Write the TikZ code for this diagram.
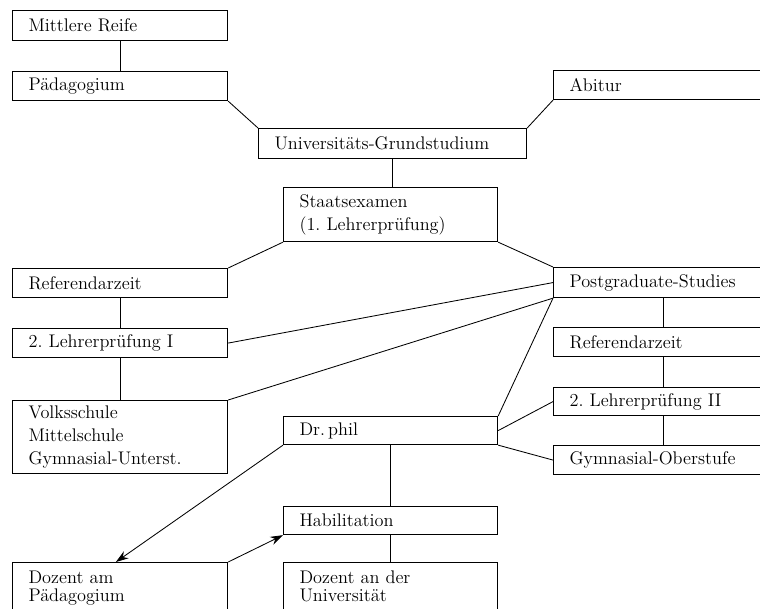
\documentclass[tikz,border=0pt]{standalone}
\usepackage{tikz}
\usetikzlibrary{arrows.meta,calc}
\frenchspacing

\tikzset{
  box/.style={draw, thick, rectangle, anchor=north west, align=left,
    inner xsep=0.4cm, inner ysep=0pt, font=\fontsize{13}{15.5}\selectfont},
  lbox/.style={box, text width=4.575cm},
  cbox/.style={box, text width=4.55cm},
  rbox/.style={box, text width=4.7cm},
  link/.style={semithick},
}

\begin{document}
\begin{tikzpicture}[x=0.025cm, y=-0.025cm]
    \useasboundingbox (0,0) rectangle (760,608);
    \clip (0,0) rectangle (760,608);
    % left column
    \node[lbox, minimum height=0.75cm] (mittel) at (12,10) {Mittlere Reife};
    \node[lbox, minimum height=0.725cm] (paed) at (12,71) {P\"adagogium};
    \node[lbox, minimum height=0.725cm] (refL) at (12,268) {Referendarzeit};
    \node[lbox, minimum height=0.725cm] (lpI) at (12,328) {2. Lehrerpr\"ufung I};
    \node[lbox, minimum height=1.825cm] (volks) at (12,400) {Volksschule\\[1pt] Mittelschule\\[1pt] Gymnasial-Unterst.};
    \node[lbox, inner ysep=6pt] (dozP) at (12,562) {Dozent am\\[-3pt] P\"adagogium\\ ~};
    % middle column
    \node[box, text width=5.9cm, minimum height=0.75cm] (univ) at (258,128) {Universit\"ats-Grundstudium};
    \node[cbox, minimum height=1.35cm] (staats) at (283,187) {Staatsexamen\\[1pt] (1. Lehrerpr\"ufung)};
    \node[cbox, minimum height=0.7cm] (dr) at (283,416) {Dr.\,phil};
    \node[cbox, minimum height=0.7cm] (habil) at (283,506) {Habilitation};
    \node[cbox, inner ysep=6pt] (dozU) at (283,562) {Dozent an der\\[-3pt] Universit\"at\\ ~};
    % right column
    \node[rbox, minimum height=0.725cm] (abitur) at (553,70) {Abitur};
    \node[rbox, minimum height=0.75cm] (post) at (553,267) {Postgraduate-Studies};
    \node[rbox, minimum height=0.725cm] (refR) at (553,327) {Referendarzeit};
    \node[rbox, minimum height=0.7cm] (lpII) at (553,387) {2. Lehrerpr\"ufung II};
    \node[rbox, minimum height=0.725cm] (gym) at (553,445) {Gymnasial-Oberstufe};

    % vertical links
    \draw[link] (mittel) -- (paed);
    \draw[link] (refL) -- (lpI);
    \draw[link] (lpI) -- (volks);
    \draw[link] (univ.south) -- (univ.south |- staats.north);
    \draw[link] (dr) -- (habil);
    \draw[link] (habil) -- (dozU);
    \draw[link] (post) -- (refR);
    \draw[link] (refR) -- (lpII);
    \draw[link] (lpII) -- (gym);
    % slanted links
    \draw[link] (paed.south east) -- (univ.north west);
    \draw[link] (abitur.south west) -- (univ.north east);
    \draw[link] (staats.south west) -- (refL.north east);
    \draw[link] (staats.south east) -- (post.north west);
    \draw[link] (lpI.east) -- (post.west);
    \draw[link] (volks.north east) -- (post.south west);
    \draw[link] (dr.north east) -- (post.south west);
    \draw[link] (dr.east) -- (lpII.west);
    \draw[link] (dr.south east) -- (gym.west);
    \draw[link, -{Stealth[length=9pt, width=6pt]}] (dr.south west) -- ([xshift=-3pt]dozP.north);
    \draw[link, -{Stealth[length=9pt, width=6pt]}] (dozP.north east) -- (habil.south west);
\end{tikzpicture}
\end{document}
